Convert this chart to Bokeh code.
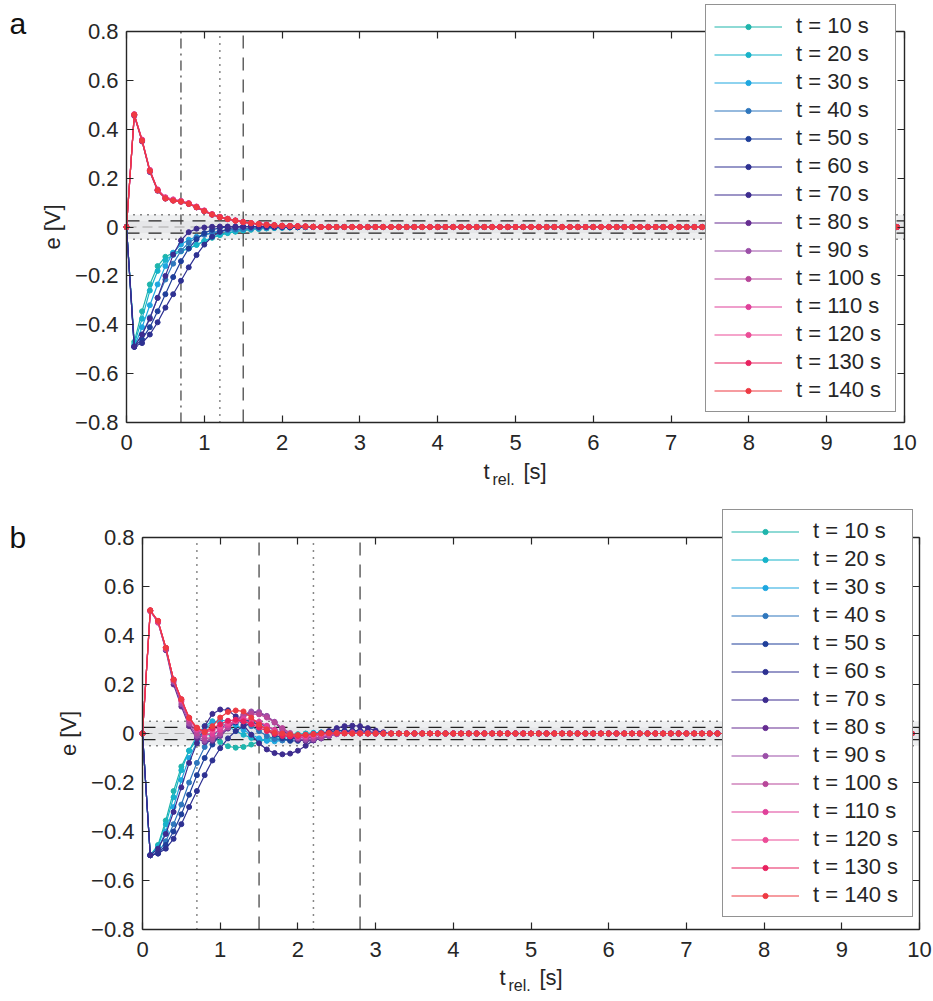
import math
from bokeh.plotting import figure
from bokeh.layouts import column
from bokeh.models import (BoxAnnotation, Label, LinearAxis, FixedTicker, Range1d, CustomLabelingPolicy)
from bokeh.embed import file_html
from bokeh.resources import INLINE

FONT = "Liberation Sans"
TXT = "#262626"
PAGE_W = 933

N = 100
T = [round(0.1 * i, 1) for i in range(N)]

SERIES = ["t = 10 s", "t = 20 s", "t = 30 s", "t = 40 s", "t = 50 s", "t = 60 s", "t = 70 s",
          "t = 80 s", "t = 90 s", "t = 100 s", "t = 110 s", "t = 120 s", "t = 130 s", "t = 140 s"]
COLORS = ["#1fb5ac", "#17b3c9", "#1ea7e0", "#2f77bd", "#1f3f9a", "#2e3192", "#3d2c8f",
          "#662d91", "#9b4fa8", "#b8479a", "#e0409a", "#ec4d97", "#e8215f", "#ee3a43"]

X_TICKS = [0, 1, 2, 3, 4, 5, 6, 7, 8, 9, 10]
Y_TICKS = [-0.8, -0.6, -0.4, -0.2, 0, 0.2, 0.4, 0.6, 0.8]
Y_LABELS = ["\u22120.8", "\u22120.6", "\u22120.4", "\u22120.2", "0", "0.2", "0.4", "0.6", "0.8"]

# panel a : transient part of each series (values after are 0)
a10 = [0, -0.47, -0.345, -0.235, -0.16, -0.122, -0.106, -0.097, -0.087, -0.073, -0.058, -0.044, -0.033, -0.025, -0.019, -0.014, -0.011, -0.008, -0.006, -0.004, -0.003, -0.002, -0.001, -0.001, 0, 0]
a20 = [0, -0.48, -0.375, -0.26, -0.18, -0.135, -0.114, -0.1, -0.088, -0.073, -0.057, -0.043, -0.032, -0.024, -0.018, -0.013, -0.01, -0.007, -0.005, -0.004, -0.003, -0.002, -0.001, -0.001, 0, 0]
a30 = [0, -0.49, -0.41, -0.32, -0.235, -0.16, -0.105, -0.072, -0.052, -0.04, -0.031, -0.024, -0.018, -0.014, -0.011, -0.008, -0.006, -0.004, -0.003, -0.002, -0.002, -0.001, -0.001, 0, 0, 0]
a40 = [0, -0.49, -0.44, -0.37, -0.29, -0.215, -0.15, -0.098, -0.064, -0.044, -0.032, -0.024, -0.018, -0.013, -0.01, -0.008, -0.006, -0.004, -0.003, -0.002, -0.002, -0.001, -0.001, 0, 0, 0]
a50 = [0, -0.49, -0.46, -0.41, -0.345, -0.275, -0.205, -0.14, -0.088, -0.05, -0.025, -0.011, -0.004, 0.0, 0.002, 0.002, 0.002, 0.002, 0.001, 0.001, 0.001, 0, 0, 0, 0, 0]
a60 = [0, -0.49, -0.475, -0.44, -0.39, -0.33, -0.275, -0.22, -0.165, -0.115, -0.072, -0.04, -0.02, -0.008, -0.002, 0.001, 0.002, 0.002, 0.002, 0.001, 0.001, 0, 0, 0, 0, 0]
a70 = [0, -0.49, -0.44, -0.375, -0.29, -0.2, -0.113, -0.055, -0.021, -0.007, -0.002, 0.001, 0.002, 0.002, 0.001, 0.001, 0, 0, 0, 0, 0, 0, 0, 0, 0, 0]
a80 = [0, 0.455, 0.35, 0.225, 0.148, 0.116, 0.108, 0.103, 0.094, 0.08, 0.064, 0.05, 0.04, 0.032, 0.026, 0.02, 0.016, 0.012, 0.009, 0.007, 0.005, 0.004, 0.003, 0.002, 0.001, 0]
a90 = [0, 0.458, 0.352, 0.228, 0.15, 0.118, 0.109, 0.104, 0.095, 0.081, 0.065, 0.051, 0.04, 0.033, 0.026, 0.02, 0.016, 0.012, 0.009, 0.007, 0.005, 0.004, 0.003, 0.002, 0.001, 0]
a100 = [0, 0.46, 0.356, 0.232, 0.152, 0.12, 0.112, 0.106, 0.097, 0.083, 0.067, 0.052, 0.041, 0.033, 0.027, 0.021, 0.016, 0.012, 0.009, 0.007, 0.005, 0.004, 0.003, 0.002, 0.001, 0]
a110 = [0, 0.462, 0.358, 0.234, 0.154, 0.122, 0.113, 0.107, 0.098, 0.084, 0.068, 0.053, 0.042, 0.034, 0.027, 0.021, 0.016, 0.013, 0.01, 0.007, 0.005, 0.004, 0.003, 0.002, 0.001, 0]
a120 = [0, 0.46, 0.355, 0.23, 0.151, 0.119, 0.11, 0.105, 0.096, 0.082, 0.066, 0.052, 0.041, 0.033, 0.026, 0.02, 0.016, 0.012, 0.009, 0.007, 0.005, 0.004, 0.003, 0.002, 0.001, 0]
a130 = [0, 0.458, 0.353, 0.229, 0.15, 0.117, 0.108, 0.104, 0.095, 0.081, 0.065, 0.051, 0.04, 0.033, 0.026, 0.02, 0.015, 0.012, 0.009, 0.007, 0.005, 0.004, 0.003, 0.002, 0.001, 0]
a140 = [0, 0.46, 0.354, 0.23, 0.15, 0.117, 0.108, 0.104, 0.095, 0.081, 0.065, 0.051, 0.04, 0.033, 0.026, 0.02, 0.016, 0.012, 0.009, 0.007, 0.005, 0.004, 0.003, 0.002, 0.001, 0]

# panel b
b10 = [0, -0.497, -0.455, -0.355, -0.235, -0.135, -0.07, -0.025, 0.0, -0.01, -0.035, -0.052, -0.058, -0.055, -0.045, -0.033, -0.023, -0.016, -0.01, -0.006, -0.003, -0.001, 0.0, 0.001, 0.002, 0.002, 0.001, 0.0]
b20 = [0, -0.497, -0.46, -0.37, -0.26, -0.15, -0.07, -0.01, 0.03, 0.05, 0.045, 0.03, 0.01, -0.005, -0.018, -0.026, -0.028, -0.025, -0.018, -0.01, -0.004, 0.0, 0.003, 0.004, 0.003, 0.002, 0.001, 0.0]
b30 = [0, -0.497, -0.47, -0.4, -0.3, -0.19, -0.1, -0.035, 0.015, 0.045, 0.055, 0.05, 0.035, 0.015, -0.005, -0.02, -0.03, -0.032, -0.028, -0.02, -0.012, -0.005, 0.0, 0.004, 0.005, 0.004, 0.002, 0.0]
b40 = [0, -0.497, -0.485, -0.44, -0.37, -0.29, -0.2, -0.12, -0.055, -0.01, 0.02, 0.04, 0.05, 0.045, 0.03, 0.01, -0.01, -0.022, -0.028, -0.026, -0.018, -0.01, -0.002, 0.004, 0.007, 0.006, 0.004, 0.002]
b50 = [0, -0.497, -0.49, -0.455, -0.4, -0.33, -0.25, -0.17, -0.1, -0.045, -0.005, 0.025, 0.045, 0.055, 0.05, 0.035, 0.015, -0.005, -0.02, -0.03, -0.03, -0.022, -0.012, -0.002, 0.008, 0.012, 0.012, 0.008, 0.004, 0.001]
b60 = [0, -0.497, -0.49, -0.47, -0.43, -0.37, -0.3, -0.235, -0.17, -0.11, -0.06, -0.02, 0.01, 0.03, 0.04, 0.04, 0.03, 0.015, 0.0, -0.015, -0.025, -0.03, -0.028, -0.02, -0.01, 0.0, 0.008, 0.012, 0.012, 0.008, 0.004, 0.001]
b70 = [0, -0.497, -0.47, -0.41, -0.32, -0.22, -0.12, -0.04, 0.03, 0.08, 0.098, 0.095, 0.07, 0.035, -0.005, -0.04, -0.065, -0.08, -0.085, -0.082, -0.07, -0.05, -0.028, -0.008, 0.01, 0.022, 0.03, 0.032, 0.03, 0.022, 0.012, 0.005, 0.0]
b80 = [0, 0.5, 0.455, 0.34, 0.2, 0.11, 0.03, -0.02, -0.035, -0.03, -0.01, 0.02, 0.05, 0.075, 0.085, 0.085, 0.07, 0.045, 0.015, -0.01, -0.025, -0.03, -0.028, -0.02, -0.01, -0.002, 0.004, 0.006, 0.005, 0.003, 0.001, 0]
b90 = [0, 0.5, 0.455, 0.345, 0.21, 0.12, 0.04, -0.01, -0.03, -0.025, -0.005, 0.025, 0.055, 0.078, 0.09, 0.088, 0.072, 0.048, 0.02, -0.005, -0.02, -0.026, -0.024, -0.018, -0.01, -0.003, 0.002, 0.004, 0.003, 0.001, 0]
b100 = [0, 0.5, 0.452, 0.345, 0.215, 0.13, 0.05, 0.0, -0.02, -0.018, 0.0, 0.025, 0.05, 0.07, 0.08, 0.078, 0.065, 0.045, 0.022, 0.002, -0.012, -0.018, -0.018, -0.013, -0.007, -0.002, 0.002, 0.003, 0.002, 0.001, 0]
b110 = [0, 0.502, 0.455, 0.35, 0.22, 0.135, 0.06, 0.015, -0.005, -0.002, 0.015, 0.035, 0.052, 0.06, 0.058, 0.048, 0.032, 0.015, 0.0, -0.01, -0.014, -0.014, -0.01, -0.005, -0.001, 0.002, 0.002, 0.001, 0]
b120 = [0, 0.502, 0.458, 0.35, 0.22, 0.138, 0.062, 0.02, 0.005, 0.012, 0.028, 0.042, 0.05, 0.05, 0.043, 0.032, 0.018, 0.006, -0.004, -0.01, -0.012, -0.01, -0.007, -0.003, 0.0, 0.002, 0.001, 0]
b130 = [0, 0.503, 0.46, 0.35, 0.22, 0.14, 0.064, 0.022, 0.008, 0.02, 0.038, 0.052, 0.056, 0.05, 0.038, 0.024, 0.01, -0.002, -0.01, -0.012, -0.01, -0.006, -0.002, 0.001, 0.002, 0.001, 0]
b140 = [0, 0.503, 0.46, 0.35, 0.22, 0.14, 0.065, 0.024, 0.005, 0.03, 0.065, 0.088, 0.094, 0.09, 0.065, 0.037, 0.017, 0.004, 0.0, -0.004, -0.006, -0.005, -0.003, 0.0, 0.002, 0.002, 0.001, 0]

A_DATA = [a10, a20, a30, a40, a50, a60, a70, a80, a90, a100, a110, a120, a130, a140]
B_DATA = [b10, b20, b30, b40, b50, b60, b70, b80, b90, b100, b110, b120, b130, b140]

A_VLINES = [(0.7, "10 5 2 5"), (1.2, "1 6"), (1.5, "13 9")]
B_VLINES = [(0.7, "1 6"), (1.5, "13 9"), (2.2, "1 6"), (2.8, "13 9")]

NO_LABELS = CustomLabelingPolicy(code="return new Set()")


def pad(v):
    return list(v) + [0.0] * (N - len(v))


def make_panel(data, vlines, H, left_px, right_px, top_px, bottom_px, letter, letter_px,
               legend_px, xlab_dy):
    sx = (right_px - left_px) / 10.0
    sy = (bottom_px - top_px) / 1.6
    X = lambda px: (px - left_px) / sx
    Y = lambda py: 0.8 - (py - top_px) / sy
    p = figure(width=PAGE_W, height=H,
               x_range=Range1d(X(0), X(PAGE_W)), y_range=Range1d(Y(H), Y(0)),
               output_backend="svg", toolbar_location=None,
               min_border=0, min_border_left=0, min_border_right=0,
               min_border_top=0, min_border_bottom=0)
    p.xgrid.visible = False
    p.ygrid.visible = False
    p.outline_line_color = None
    p.background_fill_color = "white"
    p.border_fill_color = "white"

    # tolerance bands
    p.add_layout(BoxAnnotation(left=0, right=10, bottom=-0.05, top=0.05, fill_color="#eeeff0",
                               fill_alpha=1, line_color=None, level="underlay"))
    p.add_layout(BoxAnnotation(left=0, right=10, bottom=-0.025, top=0.025, fill_color="#e6e7e9",
                               fill_alpha=1, line_color=None, level="underlay"))
    p.segment(x0=[0, 0], y0=[-0.05, 0.05], x1=[10, 10], y1=[-0.05, 0.05],
              line_color="#111111", line_width=1.4, line_dash="1 6")
    p.segment(x0=[0, 0], y0=[-0.025, 0.025], x1=[10, 10], y1=[-0.025, 0.025],
              line_color="#222222", line_width=1.2, line_dash="13 9")
    p.segment(x0=[0], y0=[0], x1=[10], y1=[0], line_color="#a8a8a8", line_width=1.2,
              line_dash="10 6")
    for xv, dash in vlines:
        lw = 1.5 if dash == "1 6" else 1.2
        col = "#111111" if dash == "1 6" else "#3a3a3a"
        p.segment(x0=[xv], y0=[-0.8], x1=[xv], y1=[0.8], line_color=col,
                  line_width=lw, line_dash=dash)

    for i in range(len(SERIES)):
        y = pad(data[i])
        p.line(T, y, line_color=COLORS[i], line_width=1.2, legend_label=SERIES[i])
        p.scatter(T, y, size=5, fill_color=COLORS[i], line_color=COLORS[i],
                  legend_label=SERIES[i])

    # axes (box like the original)
    xa, ya = p.xaxis[0], p.yaxis[0]
    xa.fixed_location = -0.8
    xa.bounds = (0, 10)
    ya.fixed_location = 0
    ya.bounds = (-0.8, 0.8)
    for ax in (xa, ya):
        ax.major_tick_in = 7
        ax.major_tick_out = 0
        ax.minor_tick_line_color = None
        ax.axis_line_color = TXT
        ax.axis_line_width = 1.4
        ax.major_tick_line_color = TXT
        ax.major_tick_line_width = 1.2
        ax.major_label_text_font = FONT
        ax.major_label_text_font_size = "22px"
        ax.major_label_text_color = TXT
    xa.ticker = FixedTicker(ticks=X_TICKS)
    xa.major_label_standoff = 12
    ya.ticker = FixedTicker(ticks=Y_TICKS)
    ya.major_label_overrides = {t: s for t, s in zip(Y_TICKS, Y_LABELS)}
    ya.major_label_standoff = 8

    right = LinearAxis(ticker=FixedTicker(ticks=Y_TICKS), fixed_location=10, bounds=(-0.8, 0.8),
                       major_label_policy=NO_LABELS, major_tick_in=7, major_tick_out=0,
                       minor_tick_line_color=None, axis_line_color=TXT, axis_line_width=1.4,
                       major_tick_line_color=TXT, major_tick_line_width=1.2)
    top = LinearAxis(ticker=FixedTicker(ticks=X_TICKS), fixed_location=0.8, bounds=(0, 10),
                     major_label_policy=NO_LABELS, major_tick_in=7, major_tick_out=0,
                     minor_tick_line_color=None, axis_line_color=TXT, axis_line_width=1.4,
                     major_tick_line_color=TXT, major_tick_line_width=1.2)
    p.add_layout(right, "right")
    p.add_layout(top, "above")

    # y label
    p.add_layout(Label(x=X(left_px - 74), y=0, text="e [V]", angle=math.pi / 2,
                       text_font=FONT, text_font_size="22px", text_color=TXT,
                       text_align="center", text_baseline="middle"))
    # x label  t_rel. [s]
    base = bottom_px + xlab_dy
    p.add_layout(Label(x=X(left_px + 357), y=Y(base), text="t", text_font=FONT,
                       text_font_size="22px", text_color=TXT, text_baseline="alphabetic"))
    p.add_layout(Label(x=X(left_px + 366), y=Y(base + 8), text="rel.", text_font=FONT,
                       text_font_size="16px", text_color=TXT, text_baseline="alphabetic"))
    p.add_layout(Label(x=X(left_px + 397), y=Y(base), text="[s]", text_font=FONT,
                       text_font_size="22px", text_color=TXT, text_baseline="alphabetic"))
    # panel letter
    p.add_layout(Label(x=X(letter_px[0]), y=Y(letter_px[1]), text=letter, text_font=FONT,
                       text_font_size="30px", text_color="#111111", text_baseline="alphabetic"))

    lg = p.legend[0]
    lg.location = (legend_px[0], H - legend_px[1])
    lg.label_text_font = FONT
    lg.label_text_font_size = "22px"
    lg.label_text_color = TXT
    lg.glyph_width = 68
    lg.glyph_height = 13
    lg.label_height = 26
    lg.label_width = 91
    lg.label_standoff = 14
    lg.spacing = 2
    lg.padding = 8
    lg.margin = 0
    lg.border_line_color = TXT
    lg.border_line_width = 1.2
    lg.background_fill_alpha = 1
    return p


pa = make_panel(A_DATA, A_VLINES, 505, 126, 904, 31, 422, "a", (9, 23), (705, 412), 49)
pb = make_panel(B_DATA, B_VLINES, 496, 142, 919, 32, 424, "b", (9, 32), (722, 412), 48)

layout = column(pa, pb, spacing=0)
open("out.html", "w").write(file_html(layout, INLINE))
